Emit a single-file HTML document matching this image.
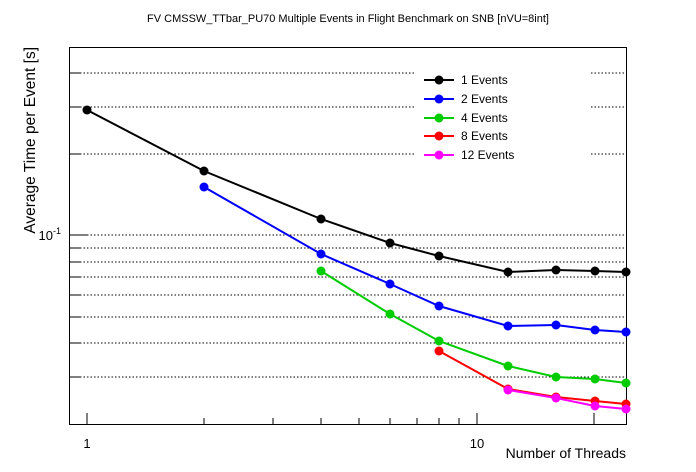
<!DOCTYPE html>
<html><head><style>body{margin:0;background:#fff}svg{display:block}text{font-family:"Liberation Sans",sans-serif}</style></head><body>
<svg width="696" height="472" viewBox="0 0 696 472" xmlns="http://www.w3.org/2000/svg">
<rect width="696" height="472" fill="#fff"/>
<text x="348" y="22" font-size="11" text-anchor="middle">FV CMSSW_TTbar_PU70 Multiple Events in Flight Benchmark on SNB [nVU=8int]</text>
<g stroke="#000" stroke-dasharray="1.5,2" stroke-width="1">
<line x1="80" x2="626" y1="73" y2="73"/><line x1="80" x2="626" y1="107" y2="107"/><line x1="80" x2="626" y1="154" y2="154"/>
<line x1="87" x2="626" y1="235" y2="235"/><line x1="80" x2="626" y1="248" y2="248"/><line x1="80" x2="626" y1="262" y2="262"/>
<line x1="80" x2="626" y1="277" y2="277"/><line x1="80" x2="626" y1="295" y2="295"/><line x1="80" x2="626" y1="317" y2="317"/>
<line x1="80" x2="626" y1="343" y2="343"/><line x1="80" x2="626" y1="377" y2="377"/>
</g>
<g stroke="#000" stroke-width="1">
<rect x="69.5" y="47.5" width="557" height="377" fill="none"/>
<line x1="69" x2="80" y1="73" y2="73"/><line x1="69" x2="80" y1="107" y2="107"/><line x1="69" x2="80" y1="154" y2="154"/>
<line x1="69" x2="87" y1="235" y2="235"/><line x1="69" x2="80" y1="248" y2="248"/><line x1="69" x2="80" y1="262" y2="262"/>
<line x1="69" x2="80" y1="277" y2="277"/><line x1="69" x2="80" y1="295" y2="295"/><line x1="69" x2="80" y1="317" y2="317"/>
<line x1="69" x2="80" y1="343" y2="343"/><line x1="69" x2="80" y1="377" y2="377"/>
<line x1="87" x2="87" y1="413" y2="424"/><line x1="477" x2="477" y1="413" y2="424"/>
<line x1="204" x2="204" y1="418" y2="424"/><line x1="273" x2="273" y1="418" y2="424"/><line x1="321" x2="321" y1="418" y2="424"/>
<line x1="359" x2="359" y1="418" y2="424"/><line x1="390" x2="390" y1="418" y2="424"/><line x1="417" x2="417" y1="418" y2="424"/>
<line x1="439" x2="439" y1="418" y2="424"/><line x1="459" x2="459" y1="418" y2="424"/><line x1="594" x2="594" y1="413" y2="424"/>
</g>
<text x="61" y="240" font-size="13" text-anchor="end">10<tspan font-size="9" dy="-6">-1</tspan></text>
<text x="87" y="448" font-size="13" text-anchor="middle">1</text>
<text x="477" y="448" font-size="13" text-anchor="middle">10</text>
<text x="626" y="458" font-size="14" text-anchor="end">Number of Threads</text>
<text transform="translate(35,47) rotate(-90)" font-size="15.5" text-anchor="end">Average Time per Event [s]</text>
<g fill="none" stroke-width="2">
<polyline stroke="#000" points="87,110 204,171 321,219 390,243 439,256 508,272 556,270 595,271 626,272"/>
<polyline stroke="#00f" points="204,187 321,254 390,284 439,306 508,326 556,325 595,330 626,332"/>
<polyline stroke="#0c0" points="321,271 390,314 439,341 508,366 556,377 595,379 626,383"/>
<polyline stroke="#f00" points="439,351 508,389 556,397 595,401 626,404"/>
<polyline stroke="#f0f" points="508,390 556,398 595,406 626,409"/>
</g>
<g fill="#000"><circle cx="87" cy="110" r="4.5"/><circle cx="204" cy="171" r="4.5"/><circle cx="321" cy="219" r="4.5"/><circle cx="390" cy="243" r="4.5"/><circle cx="439" cy="256" r="4.5"/><circle cx="508" cy="272" r="4.5"/><circle cx="556" cy="270" r="4.5"/><circle cx="595" cy="271" r="4.5"/><circle cx="626" cy="272" r="4.5"/></g>
<g fill="#00f"><circle cx="204" cy="187" r="4.5"/><circle cx="321" cy="254" r="4.5"/><circle cx="390" cy="284" r="4.5"/><circle cx="439" cy="306" r="4.5"/><circle cx="508" cy="326" r="4.5"/><circle cx="556" cy="325" r="4.5"/><circle cx="595" cy="330" r="4.5"/><circle cx="626" cy="332" r="4.5"/></g>
<g fill="#0c0"><circle cx="321" cy="271" r="4.5"/><circle cx="390" cy="314" r="4.5"/><circle cx="439" cy="341" r="4.5"/><circle cx="508" cy="366" r="4.5"/><circle cx="556" cy="377" r="4.5"/><circle cx="595" cy="379" r="4.5"/><circle cx="626" cy="383" r="4.5"/></g>
<g fill="#f00"><circle cx="439" cy="351" r="4.5"/><circle cx="508" cy="389" r="4.5"/><circle cx="556" cy="397" r="4.5"/><circle cx="595" cy="401" r="4.5"/><circle cx="626" cy="404" r="4.5"/></g>
<g fill="#f0f"><circle cx="508" cy="390" r="4.5"/><circle cx="556" cy="398" r="4.5"/><circle cx="595" cy="406" r="4.5"/><circle cx="626" cy="409" r="4.5"/></g>
<rect x="416" y="66" width="175" height="104" fill="#fff"/>
<g stroke-width="2">
<line x1="424" x2="454" y1="80" y2="80" stroke="#000"/><circle cx="439" cy="80" r="4.5" fill="#000"/>
<line x1="424" x2="454" y1="99" y2="99" stroke="#00f"/><circle cx="439" cy="99" r="4.5" fill="#00f"/>
<line x1="424" x2="454" y1="118" y2="118" stroke="#0c0"/><circle cx="439" cy="118" r="4.5" fill="#0c0"/>
<line x1="424" x2="454" y1="136" y2="136" stroke="#f00"/><circle cx="439" cy="136" r="4.5" fill="#f00"/>
<line x1="424" x2="454" y1="155" y2="155" stroke="#f0f"/><circle cx="439" cy="155" r="4.5" fill="#f0f"/>
</g>
<g font-size="12"><text x="461" y="84">1 Events</text><text x="461" y="103">2 Events</text><text x="461" y="122">4 Events</text><text x="461" y="140">8 Events</text><text x="461" y="159">12 Events</text></g>
</svg>
</body></html>
